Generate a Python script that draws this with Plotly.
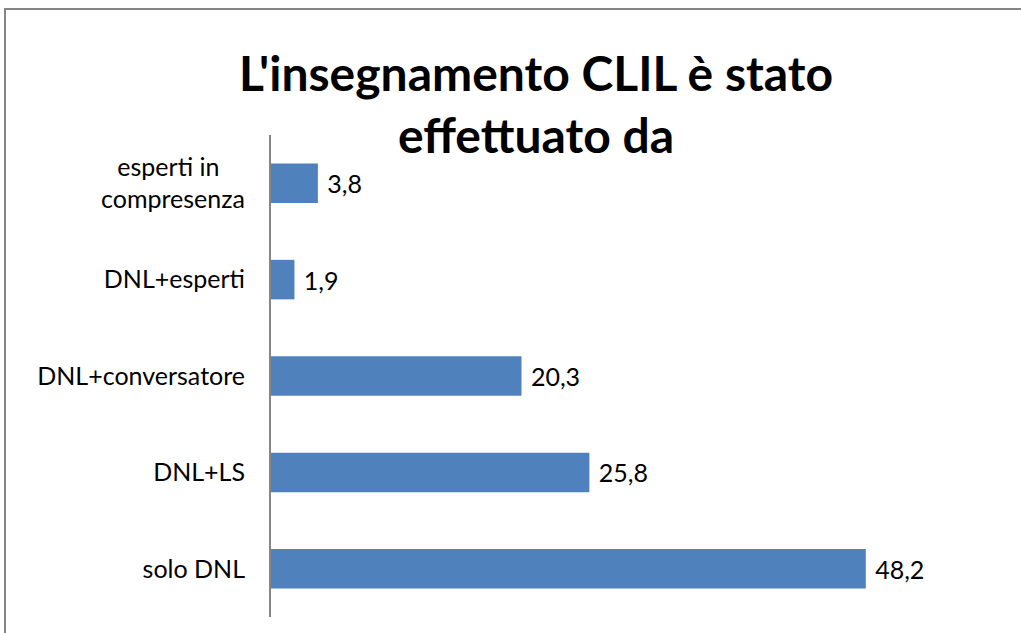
import plotly.graph_objects as go

categories = ["esperti in\u00a0\u00a0\u00a0\u00a0<br>compresenza", "DNL+esperti", "DNL+conversatore", "DNL+LS", "solo DNL"]
values = [3.8, 1.9, 20.3, 25.8, 48.2]
title_text = "L'insegnamento CLIL è stato<br>effettuato da"

W, H = 1021, 633
L, R, T, B = 271, 10, 135, 16
pw = W - L - R
ph = H - T - B

fig = go.Figure()
fig.add_trace(go.Bar(
    y=categories, x=values, orientation="h",
    marker=dict(color="#4F81BD", line=dict(width=0)),
    width=0.41,
    texttemplate=" %{x:.1f}", textposition="outside",
    textfont=dict(family="Lato", size=25, color="#000000"),
    cliponaxis=False,
    hoverinfo="skip",
))

fig.update_layout(
    width=W, height=H,
    margin=dict(l=L, r=R, t=T, b=B, pad=0),
    paper_bgcolor="white", plot_bgcolor="white",
    separators=",.",
    showlegend=False,
    xaxis=dict(range=[0, pw / 12.34], showgrid=False, zeroline=False,
               showticklabels=False, showline=False, ticks=""),
    yaxis=dict(autorange="reversed", showgrid=False, zeroline=False,
               showline=True, linecolor="#868686", linewidth=2,
               ticks="", ticklabelstandoff=19,
               tickfont=dict(family="Lato", size=25, color="#000000")),
    font=dict(family="Lato"),
)

fig.add_annotation(
    text="<b>" + title_text + "</b>",
    xref="paper", yref="paper",
    x=(536 - L) / pw, y=1 + (T - 103) / ph,
    xanchor="center", yanchor="middle",
    showarrow=False, align="center",
    font=dict(family="Lato", size=48, color="#000000"),
)

fig.add_shape(
    type="rect", xref="paper", yref="paper",
    x0=(5 - L) / pw, x1=(W + 20 - L) / pw,
    y0=-(B + 20) / ph, y1=1 + (T - 9) / ph,
    line=dict(color="#868686", width=2), fillcolor="rgba(0,0,0,0)",
    layer="below",
)

fig.write_html("out.html", config={"displayModeBar": False},
               post_script="document.body.style.margin='0px';")
